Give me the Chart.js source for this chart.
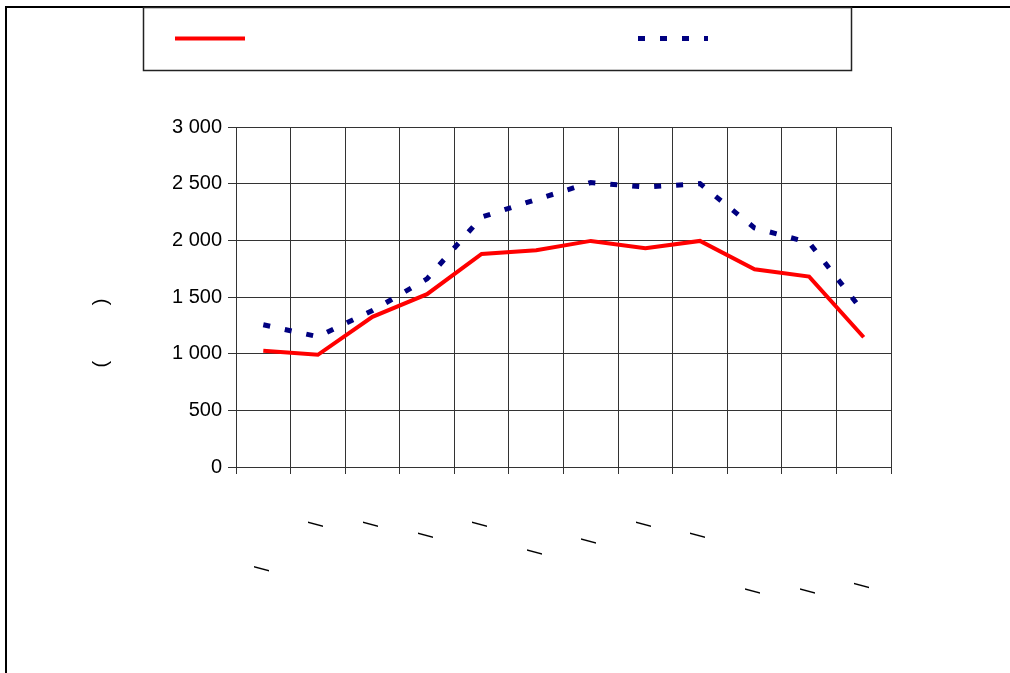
<!DOCTYPE html>
<html>
<head>
<meta charset="utf-8">
<script src="https://cdn.jsdelivr.net/npm/chart.js@4/dist/chart.umd.min.js"></script>
<style>
  html, body { margin: 0; padding: 0; background: #fff; }
  #wrap { position: relative; width: 1010px; height: 673px; }
</style>
</head>
<body>
<div id="wrap"><canvas id="c" width="1010" height="673"></canvas></div>
<script>
// Category labels: the original words render without glyphs; only the "/" is visible.
const S = '\u00a0';
const categories = [
  '/' + S.repeat(16), '/' + S.repeat(8), '/' + S.repeat(8), '/' + S.repeat(10),
  '/' + S.repeat(8), '/' + S.repeat(13), '/' + S.repeat(11), '/' + S.repeat(8),
  '/' + S.repeat(10), '/' + S.repeat(20), '/' + S.repeat(20), '/' + S.repeat(19)
];
const seriesRed  = [1025, 990, 1325, 1525, 1880, 1912, 1995, 1930, 1995, 1745, 1680, 1145];
const seriesBlue = [1255, 1150, 1380, 1660, 2205, 2360, 2510, 2470, 2500, 2110, 1980, 1365];
const yTicks = [0, 500, 1000, 1500, 2000, 2500, 3000];
const yTitle = '(' + S.repeat(10) + ')' + S.repeat(13);

const frame = {
  id: 'frame',
  beforeDraw(chart) {
    const ctx = chart.ctx;
    ctx.save();
    ctx.fillStyle = '#fff';
    ctx.fillRect(0, 0, chart.width, chart.height);
    ctx.strokeStyle = '#000';
    ctx.lineWidth = 2;
    ctx.beginPath();
    ctx.moveTo(6, 673); ctx.lineTo(6, 7); ctx.lineTo(1010, 7);
    ctx.stroke();
    // legend box
    ctx.lineWidth = 1.5;
    ctx.strokeStyle = '#222';
    ctx.strokeRect(143.5, 7.5, 708, 63);
    // legend samples
    const ds = chart.data.datasets;
    const xs = [175, 638];
    ds.forEach((d, i) => {
      ctx.beginPath();
      ctx.lineWidth = d.borderWidth;
      ctx.strokeStyle = d.borderColor;
      ctx.setLineDash(d.borderDash || []);
      ctx.lineCap = 'butt';
      ctx.moveTo(xs[i], 38.5);
      ctx.lineTo(xs[i] + 70, 38.5);
      ctx.stroke();
      ctx.setLineDash([]);
    });
    ctx.restore();
  }
};

const gridColor = '#333333';
const fontFam = '"Liberation Sans", Arial, sans-serif';
new Chart(document.getElementById('c'), {
  type: 'line',
  data: {
    labels: categories,
    datasets: [
      { label: '', data: seriesRed, borderColor: '#ff0000', borderWidth: 4,
        pointRadius: 0, tension: 0, fill: false, borderCapStyle: 'butt' },
      { label: '', data: seriesBlue, borderColor: '#000080', borderWidth: 5,
        borderDash: [7, 15], pointRadius: 0, tension: 0, fill: false, borderCapStyle: 'butt' }
    ]
  },
  options: {
    responsive: false,
    animation: false,
    layout: { padding: { left: 85, top: 127, right: 119, bottom: 0 } },
    plugins: { legend: { display: false }, tooltip: { enabled: false } },
    scales: {
      x: {
        offset: true,
        grid: { offset: true, color: gridColor, lineWidth: 1, tickLength: 7, drawTicks: true },
        border: { color: gridColor },
        ticks: {
          color: '#000', minRotation: 90, maxRotation: 90, autoSkip: false, padding: 3,
          font: { family: fontFam, size: 20 }
        },
        afterFit(scale) { scale.height = 673 - 467; }
      },
      y: {
        min: 0, max: 3000,
        afterBuildTicks(scale) { scale.ticks = yTicks.map(v => ({ value: v })); },
        grid: { color: gridColor, lineWidth: 1, tickLength: 8 },
        border: { color: gridColor },
        ticks: {
          color: '#000', padding: 6,
          font: { family: fontFam, size: 20 },
          callback: (v) => String(v).replace(/\B(?=(\d{3})+(?!\d))/g, ' ')
        },
        title: {
          display: true, text: yTitle, color: '#000', padding: { top: 4, bottom: 0 },
          font: { family: fontFam, size: 20 }
        },
        afterFit(scale) { scale.width = 236 - 85; }
      }
    }
  },
  plugins: [frame]
});
</script>
</body>
</html>
